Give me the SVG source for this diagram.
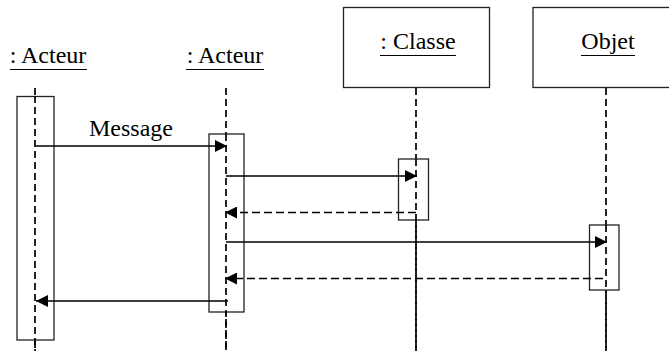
<svg xmlns="http://www.w3.org/2000/svg" width="669" height="351" viewBox="0 0 669 351">
<style>
  text { font-family: "Liberation Serif", "Times New Roman", serif; font-size: 24px; fill: #000; }
  .box { fill: #fff; stroke: #222; stroke-width: 1.3; }
  .life { stroke: #000; stroke-width: 1.7; stroke-dasharray: 7,4; fill: none; }
  .ul { stroke: #000; stroke-width: 1.2; }
  .msg { stroke: #000; stroke-width: 1.5; fill: none; }
  .ret { stroke: #000; stroke-width: 1.5; fill: none; stroke-dasharray: 8,4; }
</style>
<defs>
  <marker id="arr" markerWidth="12" markerHeight="12" refX="12" refY="6" orient="auto" markerUnits="userSpaceOnUse">
    <path d="M0,0 L12,6 L0,12 Z" fill="#000"/>
  </marker>
</defs>
<rect width="669" height="351" fill="#fff"/>
<g id="actor1">
  <text x="48" y="63" text-anchor="middle">: Acteur</text>
  <line class="ul" x1="10" y1="69.5" x2="87" y2="69.5"/>
  <line class="life" x1="35" y1="88" x2="35" y2="351"/>
  <rect class="box" x="17" y="96.5" width="37" height="243.5"/>
  <line class="life" x1="35" y1="96" x2="35" y2="351"/>
</g>
<g id="actor2">
  <text x="225" y="63" text-anchor="middle">: Acteur</text>
  <line class="ul" x1="186" y1="69.5" x2="264" y2="69.5"/>
  <line class="life" x1="226" y1="88" x2="226" y2="351"/>
  <rect class="box" x="209" y="134" width="35" height="178"/>
  <line class="life" x1="226" y1="134" x2="226" y2="351"/>
</g>
<g id="classe">
  <rect class="box" x="343.5" y="7.5" width="146" height="80"/>
  <text x="418" y="49" text-anchor="middle">: Classe</text>
  <line class="ul" x1="380" y1="55.5" x2="456" y2="55.5"/>
  <line class="life" x1="416" y1="88" x2="416" y2="351"/>
  <rect class="box" x="398.5" y="159" width="30" height="61"/>
  <line class="life" x1="416" y1="159" x2="416" y2="351"/>
</g>
<g id="objet">
  <rect class="box" x="533" y="7.5" width="146" height="80"/>
  <text x="608" y="49" text-anchor="middle">Objet</text>
  <line class="ul" x1="581" y1="55.5" x2="635" y2="55.5"/>
  <line class="life" x1="606" y1="88" x2="606" y2="351"/>
  <rect class="box" x="589.5" y="225" width="29.5" height="65"/>
  <line class="life" x1="606" y1="225" x2="606" y2="351"/>
</g>
<g id="connectors">
  <text x="131" y="136" text-anchor="middle">Message</text>
  <line class="msg" x1="36" y1="146" x2="227" y2="146" marker-end="url(#arr)"/>
  <line class="msg" x1="226" y1="176" x2="417" y2="176" marker-end="url(#arr)"/>
  <line class="ret" x1="416" y1="212.5" x2="225" y2="212.5" marker-end="url(#arr)"/>
  <line class="msg" x1="226" y1="242" x2="607" y2="242" marker-end="url(#arr)"/>
  <line class="ret" x1="603" y1="278.5" x2="225" y2="278.5" marker-end="url(#arr)"/>
  <line class="msg" x1="228" y1="301" x2="36" y2="301" marker-end="url(#arr)"/>
</g>
</svg>
